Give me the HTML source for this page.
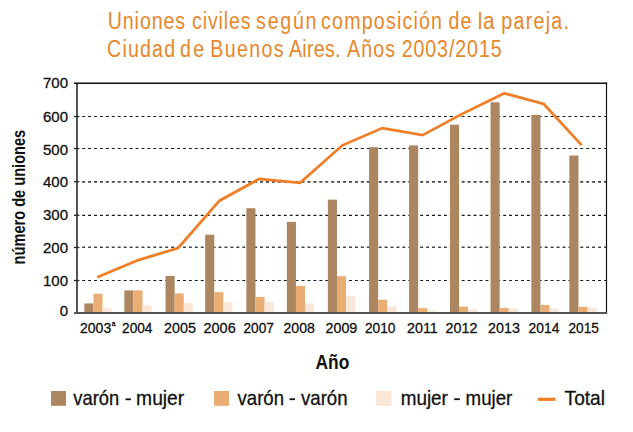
<!DOCTYPE html>
<html><head><meta charset="utf-8"><style>
html,body{margin:0;padding:0;background:#fff;width:633px;height:432px;overflow:hidden}
svg{position:absolute;left:0;top:0}
text{font-family:"Liberation Sans",sans-serif}
.lab{font-size:15px;fill:#111;stroke:#111;stroke-width:0.3px}
.sup{font-size:8px;fill:#111;stroke:#111;stroke-width:0.35px}
.title{font-size:24.5px;fill:#E6882D;stroke:#E6882D;stroke-width:0.05px}
.leg{font-size:20.6px;fill:#111;stroke:#111;stroke-width:0.3px}
.ano{font-size:19.5px;font-weight:bold;fill:#111}
</style></head><body>
<svg width="633" height="432" viewBox="0 0 633 432">
<line x1="82.15" y1="280.50" x2="606" y2="280.50" stroke="#1a1a1a" stroke-width="1.2" stroke-dasharray="2.96 2.97"/>
<line x1="82.15" y1="247.20" x2="606" y2="247.20" stroke="#444" stroke-width="1.6" stroke-dasharray="2.96 2.97"/>
<line x1="82.15" y1="215.30" x2="606" y2="215.30" stroke="#1a1a1a" stroke-width="1.2" stroke-dasharray="2.96 2.97"/>
<line x1="82.15" y1="181.90" x2="606" y2="181.90" stroke="#444" stroke-width="1.6" stroke-dasharray="2.96 2.97"/>
<line x1="82.15" y1="148.50" x2="606" y2="148.50" stroke="#1a1a1a" stroke-width="1.2" stroke-dasharray="2.96 2.97"/>
<line x1="82.15" y1="116.50" x2="606" y2="116.50" stroke="#1a1a1a" stroke-width="1.2" stroke-dasharray="2.96 2.97"/>
<rect x="84.35" y="303.40" width="9.1" height="8.80" fill="#AC8660"/>
<rect x="93.45" y="293.70" width="9.1" height="18.50" fill="#EAAE75"/>
<rect x="102.55" y="307.90" width="9.1" height="4.30" fill="#F9E8D9"/>
<rect x="124.35" y="290.40" width="9.1" height="21.80" fill="#AC8660"/>
<rect x="133.45" y="290.40" width="9.1" height="21.80" fill="#EAAE75"/>
<rect x="142.55" y="305.40" width="9.1" height="6.80" fill="#F9E8D9"/>
<rect x="165.55" y="275.90" width="9.1" height="36.30" fill="#AC8660"/>
<rect x="174.65" y="293.40" width="9.1" height="18.80" fill="#EAAE75"/>
<rect x="183.75" y="303.10" width="9.1" height="9.10" fill="#F9E8D9"/>
<rect x="205.15" y="234.70" width="9.1" height="77.50" fill="#AC8660"/>
<rect x="214.25" y="292.10" width="9.1" height="20.10" fill="#EAAE75"/>
<rect x="223.35" y="302.10" width="9.1" height="10.10" fill="#F9E8D9"/>
<rect x="246.35" y="208.20" width="9.1" height="104.00" fill="#AC8660"/>
<rect x="255.45" y="296.90" width="9.1" height="15.30" fill="#EAAE75"/>
<rect x="264.55" y="301.90" width="9.1" height="10.30" fill="#F9E8D9"/>
<rect x="286.85" y="221.90" width="9.1" height="90.30" fill="#AC8660"/>
<rect x="295.95" y="285.90" width="9.1" height="26.30" fill="#EAAE75"/>
<rect x="305.05" y="303.40" width="9.1" height="8.80" fill="#F9E8D9"/>
<rect x="327.85" y="199.70" width="9.1" height="112.50" fill="#AC8660"/>
<rect x="336.95" y="276.20" width="9.1" height="36.00" fill="#EAAE75"/>
<rect x="346.05" y="296.10" width="9.1" height="16.10" fill="#F9E8D9"/>
<rect x="369.05" y="147.20" width="9.1" height="165.00" fill="#AC8660"/>
<rect x="378.15" y="299.70" width="9.1" height="12.50" fill="#EAAE75"/>
<rect x="387.25" y="306.25" width="9.1" height="5.95" fill="#F9E8D9"/>
<rect x="409.05" y="145.40" width="9.1" height="166.80" fill="#AC8660"/>
<rect x="418.15" y="308.10" width="9.1" height="4.10" fill="#EAAE75"/>
<rect x="427.25" y="310.60" width="9.1" height="1.60" fill="#F9E8D9"/>
<rect x="449.95" y="124.70" width="9.1" height="187.50" fill="#AC8660"/>
<rect x="459.05" y="306.60" width="9.1" height="5.60" fill="#EAAE75"/>
<rect x="468.15" y="309.00" width="9.1" height="3.20" fill="#F9E8D9"/>
<rect x="490.55" y="102.30" width="9.1" height="209.90" fill="#AC8660"/>
<rect x="499.65" y="308.10" width="9.1" height="4.10" fill="#EAAE75"/>
<rect x="508.75" y="308.75" width="9.1" height="3.45" fill="#F9E8D9"/>
<rect x="531.35" y="114.90" width="9.1" height="197.30" fill="#AC8660"/>
<rect x="540.45" y="305.00" width="9.1" height="7.20" fill="#EAAE75"/>
<rect x="549.55" y="308.80" width="9.1" height="3.40" fill="#F9E8D9"/>
<rect x="569.35" y="155.50" width="9.1" height="156.70" fill="#AC8660"/>
<rect x="578.45" y="306.80" width="9.1" height="5.40" fill="#EAAE75"/>
<rect x="587.55" y="307.40" width="9.1" height="4.80" fill="#F9E8D9"/>
<line x1="77" y1="83" x2="77" y2="313.6" stroke="#555555" stroke-width="2"/>
<line x1="606.5" y1="82.4" x2="606.5" y2="313.6" stroke="#111" stroke-width="1.2"/>
<line x1="74" y1="83.3" x2="607.1" y2="83.3" stroke="#111" stroke-width="1.6"/>
<line x1="74" y1="313" x2="607.1" y2="313" stroke="#555555" stroke-width="2"/>
<line x1="74" y1="280.50" x2="79.4" y2="280.50" stroke="#222" stroke-width="1.3"/>
<line x1="74" y1="247.50" x2="79.4" y2="247.50" stroke="#222" stroke-width="1.3"/>
<line x1="74" y1="215.30" x2="79.4" y2="215.30" stroke="#222" stroke-width="1.3"/>
<line x1="74" y1="181.70" x2="79.4" y2="181.70" stroke="#222" stroke-width="1.3"/>
<line x1="74" y1="148.50" x2="79.4" y2="148.50" stroke="#222" stroke-width="1.3"/>
<line x1="74" y1="116.50" x2="79.4" y2="116.50" stroke="#222" stroke-width="1.3"/>
<polyline points="97.2,277.20 138.3,260.10 178.2,248.00 219.5,200.70 259.1,178.90 300.1,182.90 342.4,145.30 382.3,128.10 422.6,135.10 462.7,113.60 504.4,93.30 543.7,104.00 581.6,145.10" fill="none" stroke="#F07E26" stroke-width="2.75" stroke-linejoin="miter"/>
<text x="68" y="316.20" text-anchor="end" class="lab">0</text>
<text x="68" y="285.87" text-anchor="end" class="lab">100</text>
<text x="68" y="253.04" text-anchor="end" class="lab">200</text>
<text x="68" y="220.21" text-anchor="end" class="lab">300</text>
<text x="68" y="187.38" text-anchor="end" class="lab">400</text>
<text x="68" y="154.55" text-anchor="end" class="lab">500</text>
<text x="68" y="121.72" text-anchor="end" class="lab">600</text>
<text x="68" y="87.99" text-anchor="end" class="lab">700</text>
<text x="111.7" y="325.6" class="sup" textLength="3.7" lengthAdjust="spacingAndGlyphs">a</text>
<text transform="translate(25,264.4) rotate(-90)" x="0" y="0" font-weight="bold" font-size="18.5" fill="#111" textLength="134.6" lengthAdjust="spacingAndGlyphs">número de uniones</text>
<rect x="51" y="391" width="15" height="14.8" fill="#AC8660"/>
<rect x="214" y="391" width="15" height="14.8" fill="#EAAE75"/>
<rect x="375.8" y="391" width="15.8" height="14.8" fill="#F9E8D9"/>
<rect x="125.5" y="398.4" width="5.4" height="1.8" fill="#111"/>
<rect x="289.6" y="398.3" width="5.4" height="1.8" fill="#111"/>
<rect x="454.2" y="398.3" width="5.6" height="1.8" fill="#111"/>
<line x1="537.8" y1="399.3" x2="555.5" y2="399.3" stroke="#F07E26" stroke-width="3.2"/>
<text transform="translate(107.70,0) scale(0.8,1)" x="0" y="29.3" class="title" textLength="96.82" lengthAdjust="spacing">Uniones</text>
<text transform="translate(192.12,0) scale(0.8,1)" x="0" y="29.3" class="title" textLength="73.10" lengthAdjust="spacing">civiles</text>
<text transform="translate(256.12,0) scale(0.8,1)" x="0" y="29.3" class="title" textLength="75.39" lengthAdjust="spacing">según</text>
<text transform="translate(321.12,0) scale(0.8,1)" x="0" y="29.3" class="title" textLength="151.08" lengthAdjust="spacing">composición</text>
<text transform="translate(448.58,0) scale(0.8,1)" x="0" y="29.3" class="title" textLength="28.68" lengthAdjust="spacing">de</text>
<text transform="translate(477.76,0) scale(0.85,1)" x="0" y="29.3" class="title" textLength="19.70" lengthAdjust="spacing">la</text>
<text transform="translate(501.28,0) scale(0.8,1)" x="0" y="29.3" class="title" textLength="84.60" lengthAdjust="spacing">pareja.</text>
<text transform="translate(107.12,0) scale(0.8,1)" x="0" y="57.3" class="title" textLength="84.92" lengthAdjust="spacing">Ciudad</text>
<text transform="translate(180.12,0) scale(0.8,1)" x="0" y="57.3" class="title" textLength="30.00" lengthAdjust="spacing">de</text>
<text transform="translate(210.32,0) scale(0.8,1)" x="0" y="57.3" class="title" textLength="91.61" lengthAdjust="spacing">Buenos</text>
<text transform="translate(289.04,0) scale(0.8,1)" x="0" y="57.3" class="title" textLength="64.22" lengthAdjust="spacing">Aires.</text>
<text transform="translate(347.04,0) scale(0.8,1)" x="0" y="57.3" class="title" textLength="60.16" lengthAdjust="spacing">Años</text>
<text transform="translate(401.66,0) scale(0.8,1)" x="0" y="57.3" class="title" textLength="124.96" lengthAdjust="spacing">2003/2015</text>
<text x="73.34" y="404.9" class="leg" textLength="45.87" lengthAdjust="spacingAndGlyphs">varón</text>
<text x="136.12" y="404.9" class="leg" textLength="48.12" lengthAdjust="spacingAndGlyphs">mujer</text>
<text x="237.46" y="404.9" class="leg" textLength="46.61" lengthAdjust="spacingAndGlyphs">varón</text>
<text x="300.92" y="404.9" class="leg" textLength="46.71" lengthAdjust="spacingAndGlyphs">varón</text>
<text x="400.66" y="404.9" class="leg" textLength="47.20" lengthAdjust="spacingAndGlyphs">mujer</text>
<text x="465.62" y="404.9" class="leg" textLength="46.74" lengthAdjust="spacingAndGlyphs">mujer</text>
<text x="564.58" y="404.9" class="leg" textLength="40.45" lengthAdjust="spacingAndGlyphs">Total</text>
<text x="315.50" y="368.6" class="ano" textLength="33.81" lengthAdjust="spacingAndGlyphs">Año</text>
<text x="80.00" y="333.4" class="lab" textLength="31.20" lengthAdjust="spacingAndGlyphs">2003</text>
<text x="122.08" y="333.4" class="lab" textLength="30.40" lengthAdjust="spacingAndGlyphs">2004</text>
<text x="164.08" y="333.4" class="lab" textLength="31.75" lengthAdjust="spacingAndGlyphs">2005</text>
<text x="203.58" y="333.4" class="lab" textLength="32.09" lengthAdjust="spacingAndGlyphs">2006</text>
<text x="243.54" y="333.4" class="lab" textLength="30.37" lengthAdjust="spacingAndGlyphs">2007</text>
<text x="283.50" y="333.4" class="lab" textLength="31.39" lengthAdjust="spacingAndGlyphs">2008</text>
<text x="325.54" y="333.4" class="lab" textLength="31.79" lengthAdjust="spacingAndGlyphs">2009</text>
<text x="364.96" y="333.4" class="lab" textLength="30.54" lengthAdjust="spacingAndGlyphs">2010</text>
<text x="407.00" y="333.4" class="lab" textLength="30.81" lengthAdjust="spacingAndGlyphs">2011</text>
<text x="445.58" y="333.4" class="lab" textLength="31.86" lengthAdjust="spacingAndGlyphs">2012</text>
<text x="488.08" y="333.4" class="lab" textLength="31.78" lengthAdjust="spacingAndGlyphs">2013</text>
<text x="528.54" y="333.4" class="lab" textLength="30.83" lengthAdjust="spacingAndGlyphs">2014</text>
<text x="568.50" y="333.4" class="lab" textLength="30.45" lengthAdjust="spacingAndGlyphs">2015</text>
</svg>
</body></html>
